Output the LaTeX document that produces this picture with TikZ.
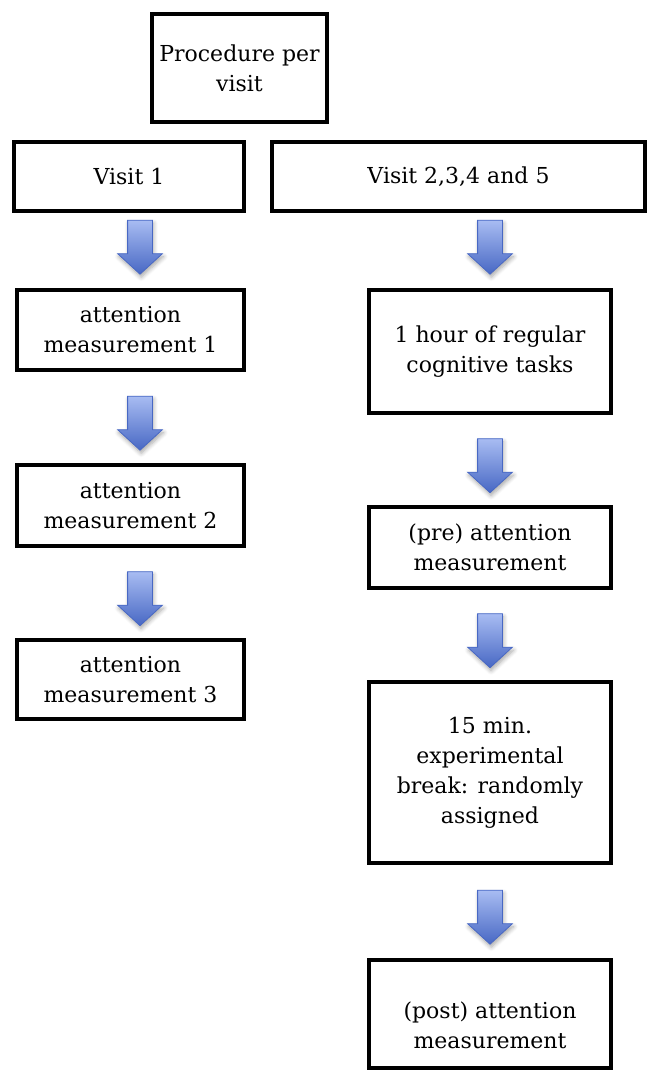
\documentclass[tikz,border=0pt]{standalone}
\usepackage{fontspec}
\setmainfont{DejaVu Serif}
\usepackage{tikz}
\usetikzlibrary{shapes.arrows, shadows.blur, calc, positioning}
\definecolor{arrowlight}{RGB}{168,188,242}
\definecolor{arrowdark}{RGB}{72,104,196}
\tikzstyle{box} = [rectangle, line width=2pt, draw=black, align=center, inner sep=0pt, font=\fontsize{11}{15}\selectfont]
\tikzstyle{downarrow} = [single arrow, shape border rotate=270, minimum height=27pt, minimum width=22pt, single arrow head extend=5pt, single arrow tip angle=95, inner sep=6pt, draw=arrowdark, line width=0.4pt, top color=arrowlight, bottom color=arrowdark, blur shadow={shadow xshift=0.6pt, shadow yshift=-1.5pt, shadow opacity=35, shadow blur steps=6}]

\begin{document}
\begin{tikzpicture}[x=0.5pt, y=-0.5pt]
		\useasboundingbox (0,0) rectangle (656,1074);
		\coordinate (colL) at (140,0);
		\coordinate (colR) at (490,0);
		\node (Proc) [box, minimum width=87.5pt, minimum height=54pt] at (239.5,68) {Procedure per\\visit};
		\node (Visit1) [box, minimum width=115pt, minimum height=34.5pt] at (129,176.5) {Visit 1};
		\node (VisitN) [box, minimum width=186.5pt, minimum height=34.5pt] at (458.5,176.5) {Visit 2,3,4 and 5};
		\node (Meas1) [box, minimum width=113.5pt, minimum height=40pt] at (130.5,330) {attention\\measurement 1};
		\node (Meas2) [box, minimum width=113.5pt, minimum height=40.5pt] at (130.5,505.5) {attention\\measurement 2};
		\node (Meas3) [box, minimum width=113.5pt, minimum height=39.5pt] at (130.5,679.5) {attention\\measurement 3};
		\node (Tasks) [box, minimum width=121pt, minimum height=61.5pt] at (490,351.5) {1 hour of regular\\cognitive tasks};
		\node (Pre) [box, minimum width=121pt, minimum height=40.5pt] at (490,547.5) {(pre) attention\\measurement};
		\node (Break) [box, minimum width=121pt, minimum height=90.5pt] at (490,772.5) {15 min.\\experimental\\break: randomly\\assigned};
		\node (Post) [box, minimum width=121pt, minimum height=54pt] at (490,1014) {\rule{0pt}{20pt}(post) attention\\measurement};
		\coordinate (gL1) at ($(Visit1.south)!0.38!(Meas1.north)$);
		\coordinate (gL2) at ($(Meas1.south)!0.5!(Meas2.north)$);
		\coordinate (gL3) at ($(Meas2.south)!0.5!(Meas3.north)$);
		\coordinate (gR1) at ($(VisitN.south)!0.38!(Tasks.north)$);
		\coordinate (gR2) at ($(Tasks.south)!0.5!(Pre.north)$);
		\coordinate (gR3) at ($(Pre.south)!0.5!(Break.north)$);
		\coordinate (gR4) at ($(Break.south)!0.5!(Post.north)$);
		\node (ArrL1) [downarrow] at (colL |- gL1) {};
		\node (ArrL2) [downarrow] at (colL |- gL2) {};
		\node (ArrL3) [downarrow] at (colL |- gL3) {};
		\node (ArrR1) [downarrow] at (colR |- gR1) {};
		\node (ArrR2) [downarrow] at (colR |- gR2) {};
		\node (ArrR3) [downarrow] at (colR |- gR3) {};
		\node (ArrR4) [downarrow] at (colR |- gR4) {};
\end{tikzpicture}
\end{document}
